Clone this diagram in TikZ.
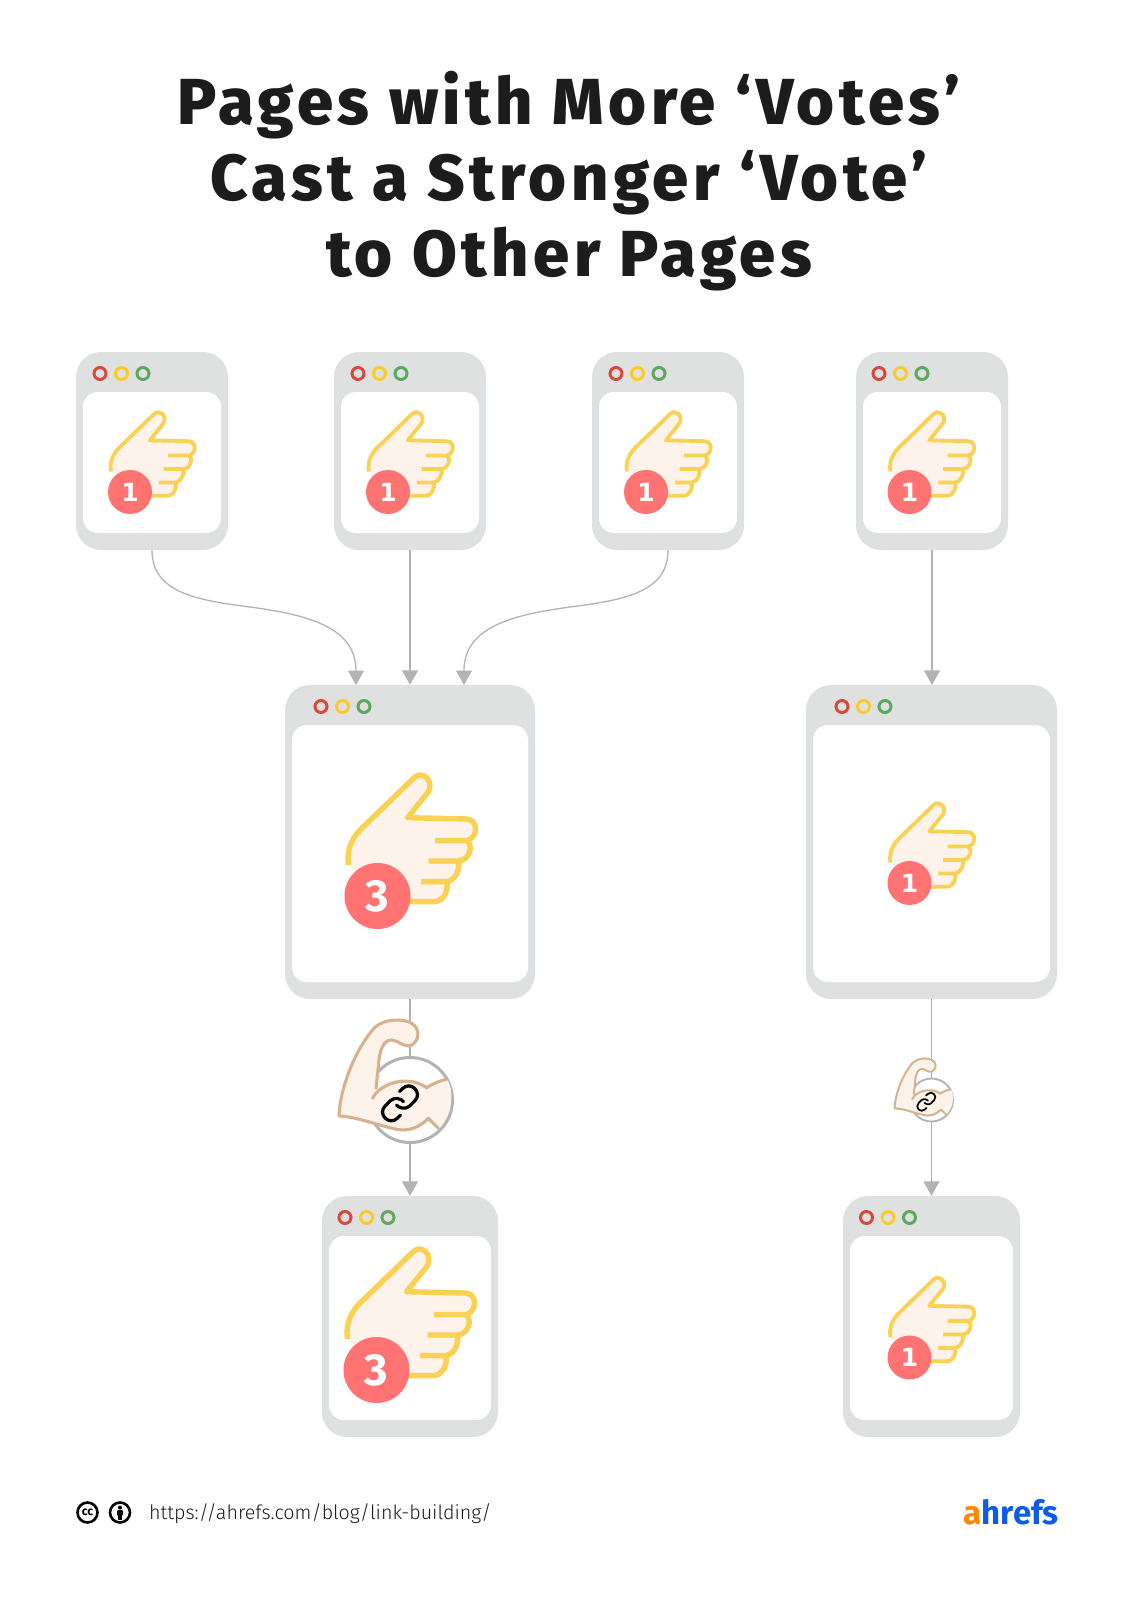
\documentclass[tikz,border=0pt]{standalone}
\usepackage{fontspec}
\usetikzlibrary{arrows.meta}
\setmainfont{Open Sans}
\newfontfamily\titlefont[LetterSpace=7]{Fira Sans ExtraBold}
\newfontfamily\digitfont{Fira Sans Bold}
\newfontfamily\onefont{DejaVu Sans Bold}
\newfontfamily\urlfont{Fira Sans Light}
\definecolor{frame}{HTML}{DFE1E1}
\definecolor{skin}{HTML}{FDF3EA}
\definecolor{handline}{HTML}{F9D153}
\definecolor{armline}{HTML}{D6B28E}
\definecolor{badge}{HTML}{FF7373}
\definecolor{conncol}{HTML}{B3B3B3}
\definecolor{dotr}{HTML}{D9483B}
\definecolor{doty}{HTML}{FBCB2C}
\definecolor{dotg}{HTML}{5BA85E}
\definecolor{ink}{HTML}{1C1C1C}
\definecolor{logoo}{HTML}{FF8800}
\definecolor{logob}{HTML}{0D5CE5}
\tikzset{
  x=1pt,y=-1pt,
  outerbox/.style={fill=frame,draw=none,rounded corners=25pt,inner sep=0pt},
  innerbox/.style={fill=white,draw=none,rounded corners=15pt,inner sep=0pt},
  ring/.style={circle,draw=#1,line width=3pt,fill=none,minimum size=12pt,inner sep=0pt},
  conn/.style={draw=conncol,line width=1.3pt},
  tip/.style={-{Triangle[length=14.5pt,width=16pt,fill=conncol]}},
  badgenode/.style={circle,fill=badge,text=white,inner sep=0pt,font=\digitfont},
  titleline/.style={anchor=base,text=ink,inner sep=0pt,font=\titlefont\fontsize{65}{74}\selectfont},
}
% name, x1, y1, x2, y2, first dot x
\newcommand{\browserbox}[6]{%
  \pgfmathsetmacro{\bw}{#4-#2}\pgfmathsetmacro{\bh}{#5-#3}%
  \pgfmathsetmacro{\bcx}{(#2+#4)/2}\pgfmathsetmacro{\bcy}{(#3+#5)/2}%
  \pgfmathsetmacro{\iw}{\bw-14}\pgfmathsetmacro{\ih}{\bh-57}%
  \pgfmathsetmacro{\icy}{(#3+40+#5-17)/2}%
  \node[outerbox,minimum width=\bw pt,minimum height=\bh pt] (#1) at (\bcx,\bcy) {};
  \node[innerbox,minimum width=\iw pt,minimum height=\ih pt] (#1in) at (\bcx,\icy) {};
  \pgfmathsetmacro{\dy}{#3+21.5}\pgfmathsetmacro{\dxb}{#6+21.5}\pgfmathsetmacro{\dxc}{#6+43}%
  \node[ring=dotr] (#1r) at (#6,\dy) {};
  \node[ring=doty] (#1y) at (\dxb,\dy) {};
  \node[ring=dotg] (#1g) at (\dxc,\dy) {};
}
% name, cx, cy, scale k, line width, badge diameter, digit font+size, digit
\newcommand{\handicon}[8]{%
  \begin{scope}[shift={(#2,#3)},scale=#4/3]
  \begin{scope}[shift={(-172,-438)}]
    \fill[skin] (85,345) .. controls (78,300) and (95,260) .. (135,225) -- (283,82) .. controls (305,62) and (342,88) .. (325,125) -- (262,203) -- (440,207) .. controls (475,210) and (475,262) .. (440,272) .. controls (460,285) and (450,330) .. (415,333) .. controls (420,350) and (410,390) .. (380,395) .. controls (385,415) and (375,455) .. (340,455) -- (200,455) -- cycle;
    \draw[handline,line width=#5pt,line join=round] (85,345) .. controls (78,300) and (95,260) .. (135,225) -- (283,82) .. controls (305,62) and (342,88) .. (325,125) -- (262,203) -- (440,207) .. controls (475,210) and (475,262) .. (440,272) -- (345,272);
    \draw[handline,line width=#5pt,line join=round] (440,272) .. controls (460,285) and (450,330) .. (415,333) -- (325,333);
    \draw[handline,line width=#5pt,line join=round] (415,333) .. controls (420,350) and (410,390) .. (380,395) -- (303,395);
    \draw[handline,line width=#5pt,line join=round] (380,395) .. controls (385,415) and (375,455) .. (340,455) -- (230,455);
  \end{scope}
  \end{scope}
  \node[badgenode,minimum size=#6pt,font=#7] (#1) at (#2,#3) {\raisebox{-1.5pt}{#8}};
}
% cx, cy, scale k, arm line width, link line width
\newcommand{\armicon}[5]{%
  \begin{scope}[shift={(#1,#2)},scale=#3/3]
  \begin{scope}[shift={(-270,-330)}]
    \fill[skin] (57,378) .. controls (60,290) and (110,170) .. (165,112) .. controls (195,85) and (250,85) .. (275,100) .. controls (300,115) and (300,150) .. (275,165) .. controls (250,175) and (235,150) .. (215,150) .. controls (190,150) and (178,180) .. (175,230) -- (170,295) .. controls (190,270) and (260,255) .. (320,293) .. controls (340,280) and (360,272) .. (382,268) .. controls (400,300) and (403,365) .. (355,415) -- (325,385) .. controls (300,410) and (270,425) .. (230,418) .. controls (170,405) and (110,380) .. (57,378) -- cycle;
    \draw[armline,line width=#4pt,line join=round,line cap=round] (355,415) -- (325,385) .. controls (300,410) and (270,425) .. (230,418) .. controls (170,405) and (110,380) .. (57,378) .. controls (60,290) and (110,170) .. (165,112) .. controls (195,85) and (250,85) .. (275,100) .. controls (300,115) and (300,150) .. (275,165) .. controls (250,175) and (235,150) .. (215,150) .. controls (190,150) and (178,180) .. (175,230) -- (168,295);
    \draw[armline,line width=#4pt,line cap=round] (158,325) .. controls (175,285) and (260,250) .. (320,293) .. controls (340,280) and (360,272) .. (380,268);
    \begin{scope}[shift={(240,340)},scale=5.2]
    \begin{scope}[shift={(-12,-12)}]
      \draw[black,line width=#5pt,line cap=round,line join=round] (10,13) .. controls (11,14.6) and (15.2,15.9) .. (17.54,13.54) -- (20.54,10.54) .. controls (25.25,5.83) and (18.18,-1.24) .. (13.47,3.47) -- (11.75,5.18);
      \draw[black,line width=#5pt,line cap=round,line join=round] (14,11) .. controls (13,9.4) and (8.8,8.1) .. (6.46,10.46) -- (3.46,13.46) .. controls (-1.25,18.17) and (5.82,25.24) .. (10.53,20.53) -- (12.25,18.82);
    \end{scope}
    \end{scope}
  \end{scope}
  \end{scope}
}
\begin{document}
\begin{tikzpicture}
\useasboundingbox (0,0) rectangle (1134,1600);
\fill[white] (0,0) rectangle (1134,1600);
% title
\node[titleline] (t1) at (569,124.5) {Pages with More ‘Votes’};
\node[titleline] (t2) at (569,200.5) {Cast a Stronger ‘Vote’};
\node[titleline] (t3) at (569,276.5) {to Other Pages};
% browser windows
\browserbox{a}{76}{352}{228}{550}{100}
\browserbox{b}{334}{352}{486}{550}{358}
\browserbox{c}{592}{352}{744}{550}{616}
\browserbox{d}{856}{352}{1008}{550}{879}
\browserbox{e}{285}{685}{535}{999}{321}
\browserbox{f}{806}{685}{1057}{999}{842}
\browserbox{g}{322}{1196}{498}{1437}{345}
\browserbox{h}{843}{1196}{1020}{1437}{866.5}
% hands
\def\onesize{\onefont\fontsize{25}{25}\selectfont}
\def\threesize{\digitfont\fontsize{45}{45}\selectfont}
\handicon{ba}{130}{492}{.66}{3.8}{44}{\onesize}{1}
\handicon{bb}{388}{492}{.66}{3.8}{44}{\onesize}{1}
\handicon{bc}{646}{492}{.66}{3.8}{44}{\onesize}{1}
\handicon{bd}{909.5}{492}{.66}{3.8}{44}{\onesize}{1}
\handicon{be}{377.5}{896}{1}{5.4}{66}{\threesize}{3}
\handicon{bf}{909.5}{883}{.66}{3.8}{44}{\onesize}{1}
\handicon{bg}{376.5}{1370}{1}{5.4}{66}{\threesize}{3}
\handicon{bh}{909.5}{1357.5}{.66}{3.8}{44}{\onesize}{1}
% connectors into the middle row
\draw[conn,tip] (a.south) .. controls (152,592) and (195,600) .. (250,607) .. controls (310,615) and (356,628) .. (356,685);
\draw[conn,tip] (b.south) -- (b.south |- e.north);
\draw[conn,tip] (c.south) .. controls (668,592) and (625,600) .. (570,607) .. controls (510,615) and (464,628) .. (464,685);
\draw[conn,tip] (d.south) -- (d.south |- f.north);
% strength circles and connectors
\node[circle,draw=conncol,fill=white,line width=3pt,minimum size=85pt,inner sep=0pt] (m1) at (410,1100) {};
\node[circle,draw=conncol,fill=white,line width=1.9pt,minimum size=43pt,inner sep=0pt] (m2) at (931.5,1100) {};
\draw[conn] (e.south) -- (m1.north);
\draw[conn,tip] (m1.south) -- (m1.south |- g.north);
\draw[conn] (f.south) -- (m2.north);
\draw[conn,tip] (m2.south) -- (m2.south |- h.north);
\armicon{410}{1100}{1}{3.1}{3.2}
\armicon{931.5}{1100}{.52}{2}{1.7}
% footer
\node[circle,draw=black,line width=2.6pt,minimum size=20pt,inner sep=0pt,font=\digitfont\fontsize{12}{12}\selectfont] (cc) at (87.5,1512.5) {cc};
\node[circle,draw=black,line width=2.6pt,minimum size=20pt,inner sep=0pt] (by) at (120,1512.5) {};
\fill[black] (120,1507.5) circle[radius=2];
\fill[black,rounded corners=1pt] (117,1510) rectangle (123,1515.5);
\fill[black] (118.2,1515) rectangle (121.8,1520);
\node[anchor=base west,inner sep=0pt,text=ink,font=\urlfont\fontsize{19.7}{24}\selectfont] (url) at (149,1519) {https://ahrefs.com/blog/link-building/};
\node[anchor=base east,inner sep=0pt,font=\digitfont\fontsize{33}{33}\selectfont] (logo) at (1059,1524) {\textcolor{logoo}{a}\textcolor{logob}{hrefs}};
\end{tikzpicture}
\end{document}
